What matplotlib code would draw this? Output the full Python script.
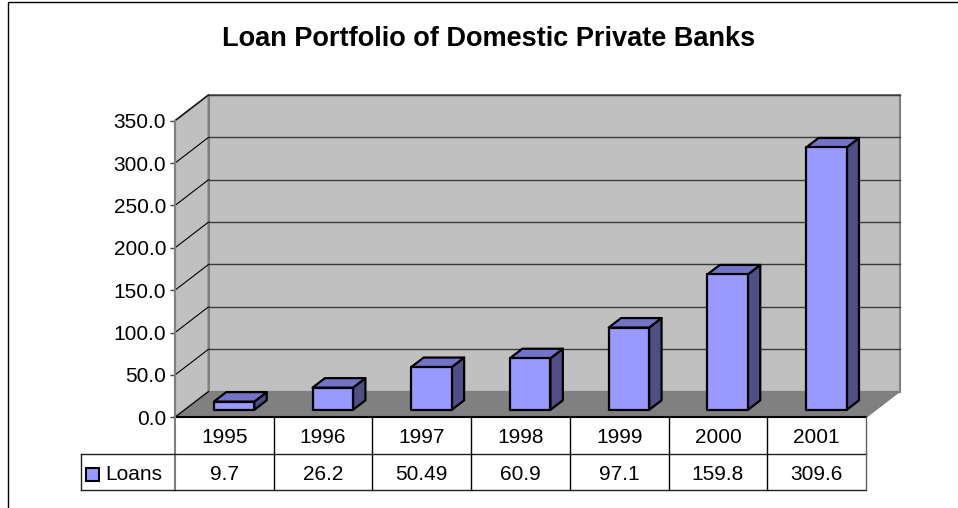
import matplotlib
matplotlib.use("Agg")
import matplotlib.pyplot as plt
from matplotlib.patches import Polygon, Rectangle
from matplotlib.transforms import Affine2D, blended_transform_factory

# ---- data -------------------------------------------------------------
years = ["1995", "1996", "1997", "1998", "1999", "2000", "2001"]
loans = [9.7, 26.2, 50.49, 60.9, 97.1, 159.8, 309.6]
y_ticks = [0, 50, 100, 150, 200, 250, 300, 350]
series_name = "Loans"
title = "Loan Portfolio of Domestic Private Banks"

# ---- colours ----------------------------------------------------------
WALL = "#c0c0c0"
FLOOR = "#808080"
EDGE = "#808080"
BAR_FRONT = "#9999ff"
BAR_TOP = "#7373c8"
BAR_SIDE = "#4f4f85"

plt.rcParams["font.family"] = ["Liberation Sans", "DejaVu Sans"]

W, H = 958, 508
fig = plt.figure(figsize=(W / 100, H / 100), dpi=100)
fig.patch.set_facecolor("white")

# pixel coordinates with the origin at the top-left corner
pix = Affine2D().scale(1 / W, -1 / H).translate(0, 1) + fig.transFigure

# front plane of the 3-D plot area
x0, x1 = 175, 866
ytop, ybot = 120.7, 417.3
ax = fig.add_axes([x0 / W, 1 - ybot / H, (x1 - x0) / W, (ybot - ytop) / H])
n = len(years)
ymax = y_ticks[-1]
ax.set_xlim(0, n)
ax.set_ylim(0, ymax)
ax.patch.set_visible(False)

# oblique depth offset expressed in data units
px_per_cat = (x1 - x0) / n
px_per_val = (ybot - ytop) / ymax
DX = 33.5 / px_per_cat
DY = 25.7 / px_per_val

# walls and floor
ax.add_patch(Rectangle((DX, DY), n, ymax, fc=WALL, ec=EDGE, lw=1.5,
                       clip_on=False, zorder=1))
ax.add_patch(Polygon([(0, 0), (0, ymax), (DX, ymax + DY), (DX, DY)],
                     closed=True, fc=WALL, ec=EDGE, lw=1.5, clip_on=False, zorder=1))
ax.add_patch(Polygon([(0, 0), (n, 0), (n + DX, DY), (DX, DY)],
                     closed=True, fc=FLOOR, ec=EDGE, lw=1.0, clip_on=False, zorder=1))

# gridlines on the back wall and the side wall
for v in y_ticks[1:]:
    ax.plot([DX, n + DX], [v + DY, v + DY], color="#3a3a3a", lw=1.0,
            clip_on=False, zorder=2)
for v in y_ticks:
    ax.plot([0, DX], [v, v + DY], color="#000000", lw=0.8,
            clip_on=False, zorder=2)

# 3-D columns
BW = 0.41          # column width in category units
F0, D = 0.29, 0.37  # front position and thickness along the depth axis
for i, v in enumerate(loans):
    left = i + 0.5 - BW / 2 + F0 * DX
    right = left + BW
    bottom = F0 * DY
    top = bottom + v
    ox, oy = D * DX, D * DY
    kw = dict(ec="black", lw=1.6, clip_on=False, zorder=3, joinstyle="round")
    ax.add_patch(Polygon([(right, bottom), (right + ox, bottom + oy),
                          (right + ox, top + oy), (right, top)], fc=BAR_SIDE, **kw))
    ax.add_patch(Polygon([(left, top), (right, top), (right + ox, top + oy),
                          (left + ox, top + oy)], fc=BAR_TOP, **kw))
    ax.add_patch(Rectangle((left, bottom), BW, v, fc=BAR_FRONT, **kw))

# value axis
for s in ("top", "right", "bottom"):
    ax.spines[s].set_visible(False)
ax.spines["left"].set_color(EDGE)
ax.spines["left"].set_linewidth(1.5)
ax.spines["left"].set_zorder(2)
ax.set_xticks([])
ax.set_yticks(y_ticks)
ax.set_yticklabels([f"{t:.1f}" for t in y_ticks])
ax.tick_params(axis="y", length=3.6, width=1.0, color="#404040", pad=2.8,
               labelsize=15, labelcolor="black")

# ---- data table under the plot --------------------------------------
tx = blended_transform_factory(ax.transData, pix)
row_top, row_mid, row_bot = ybot, 454.3, 490.0
key_left = 80.7
line_kw = dict(clip_on=False, zorder=4)

ax.plot([0, n], [row_top, row_top], transform=tx, color="black", lw=1.5, **line_kw)
ax.plot([0, n], [row_mid, row_mid], transform=tx, color="#202020", lw=1.0, **line_kw)
ax.plot([0, n], [row_bot, row_bot], transform=tx, color="#202020", lw=1.0, **line_kw)
for k in range(1, n):
    ax.plot([k, k], [row_top, row_bot], transform=tx, color="black", lw=1.0, **line_kw)
ax.plot([0, 0], [row_top, row_bot], transform=tx, color=EDGE, lw=1.5, **line_kw)
ax.plot([n, n], [row_top, row_bot], transform=tx, color="#606060", lw=1.0, **line_kw)

# legend key cell
fig.add_artist(plt.Line2D([key_left, x0], [row_mid, row_mid], transform=pix,
                          color="#202020", lw=1.0))
fig.add_artist(plt.Line2D([key_left, x0], [row_bot, row_bot], transform=pix,
                          color="#202020", lw=1.0))
fig.add_artist(plt.Line2D([key_left, key_left], [row_mid, row_bot], transform=pix,
                          color="#202020", lw=1.0))
fig.add_artist(Rectangle((86, 468), 13, 13, transform=pix, fc=BAR_FRONT,
                         ec="black", lw=1.5))
fig.text(105, 480.5, series_name, transform=pix,
         fontsize=15, ha="left", va="baseline")

for i, (yr, v) in enumerate(zip(years, loans)):
    ax.text(i + 0.5, 443.3, yr, transform=tx,
            fontsize=15, ha="center", va="baseline")
    ax.text(i + 0.5, 480.0, str(v), transform=tx,
            fontsize=15, ha="center", va="baseline")

# chart title and outer frame
fig.text(488.5, 46, title, transform=pix, fontsize=19.5, fontweight="bold",
         ha="center", va="baseline")
fig.add_artist(Rectangle((8, 2), 1000, 600, transform=pix, fc="none",
                         ec="black", lw=1.0))

fig.savefig("out.png", dpi=100)
